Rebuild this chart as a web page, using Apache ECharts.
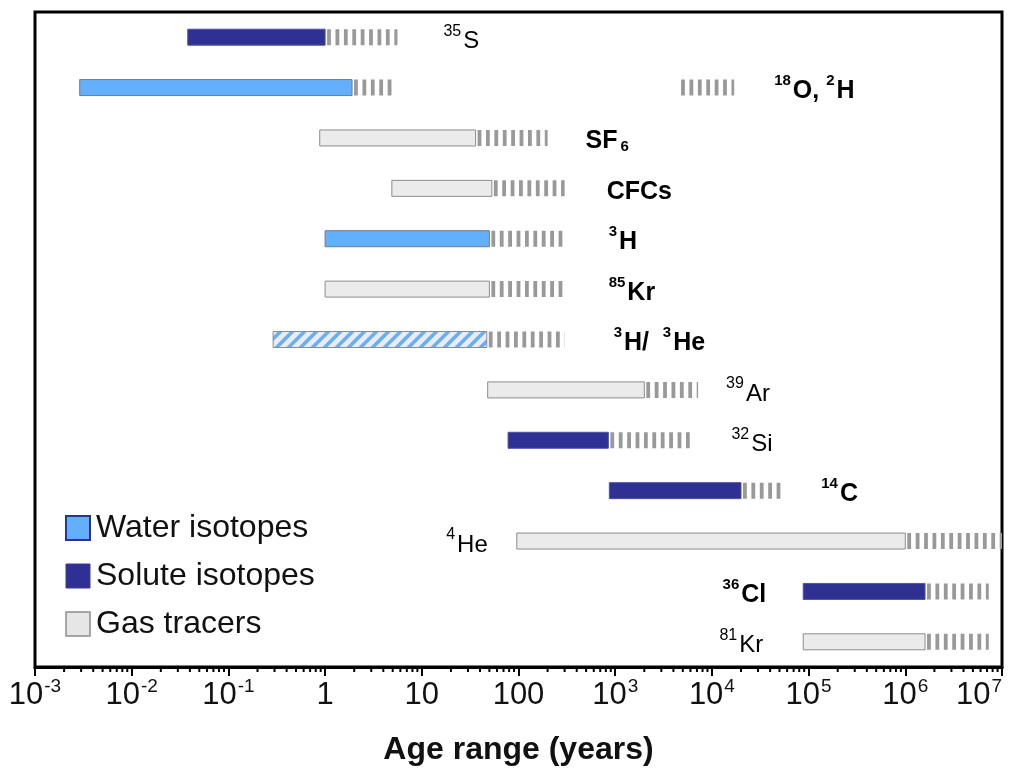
<!DOCTYPE html>
<html>
<head>
<meta charset="utf-8">
<script src="https://cdn.jsdelivr.net/npm/echarts@6/dist/echarts.min.js"></script>
<style>
html,body{margin:0;padding:0;background:#fff;}
#chart{width:1015px;height:771px;}
</style>
</head>
<body>
<div id="chart"></div>
<script>
// ---------------- data ----------------
const tracers = ['35S', '18O, 2H', 'SF6', 'CFCs', '3H', '85Kr', '3H/3He', '39Ar', '32Si', '14C', '4He', '36Cl', '81Kr'];
const groups = ['solute', 'water', 'gas', 'gas', 'water', 'gas', 'mixed', 'gas', 'solute', 'solute', 'gas', 'solute', 'gas'];
const solidFrom = [0.038, 0.0029, 0.88, 4.9, 1.0, 1.0, 0.29, 48, 78, 870, 96, 88000, 88000];
const solidTo = [1.0, 1.9, 36, 53, 50, 50, 47, 2000, 850, 20000, 1.0e6, 1.6e6, 1.6e6];
const dashTo = [5.6, 4.9, 200, 300, 300, 300, 300, 7200, 6000, 56000, 1.0e7, 7.3e6, 7.3e6];
const extraDashFrom = [null, 4800, null, null, null, null, null, null, null, null, null, null, null];
const extraDashTo = [null, 17000, null, null, null, null, null, null, null, null, null, null, null];
const labelRich = [
  '{s|35}{n|S}',
  '{bs|18}{b|O, }{bs|2}{b|H}',
  '{b|SF}{bsub|6}',
  '{b|CFCs}',
  '{bs|3}{b|H}',
  '{bs|85}{b|Kr}',
  '{bs|3}{b|H/  }{bs|3}{b|He}',
  '{s|39}{n|Ar}',
  '{s|32}{n|Si}',
  '{bs|14}{b|C}',
  '{s|4}{n|He}',
  '{bs|36}{b|Cl}',
  '{s|81}{n|Kr}'
];
const seriesNames = { water: 'Water isotopes', solute: 'Solute isotopes', gas: 'Gas tracers', mixed: 'Water / gas' };
const axisMin = 0.001, axisMax = 1e7;

// ---------------- styles ----------------
const FONT = 'Liberation Sans, Arial, sans-serif';
const labelSide = ['r','r','r','r','r','r','r','r','r','r','l','l','l'];
const labelGap = [46, 40, 38, 42, 44, 44, 49, 28, 41, 37, 29, 37, 40];
const colors = {
  water: { fill: '#62b0fb', stroke: '#6f7a86' },
  solute: { fill: '#2e3192', stroke: '#5050a8' },
  gas: { fill: '#ebebeb', stroke: '#8c8c8c' }
};
const stripeColor = '#999999';
const BAR_H = 16;

// hatched pattern for 3H/3He
const pat = document.createElement('canvas');
pat.width = 12; pat.height = 12;
(function () {
  const c = pat.getContext('2d');
  c.fillStyle = '#e9edf2';
  c.fillRect(0, 0, 12, 12);
  c.strokeStyle = '#6aaef5';
  c.lineWidth = 3.6;
  c.beginPath();
  for (let k = -1; k <= 1; k++) {
    c.moveTo(k * 12 - 2, 14);
    c.lineTo(k * 12 + 14, -2);
  }
  c.stroke();
})();

const richStyles = {
  n: { fontFamily: FONT, fontSize: 24, color: '#222', verticalAlign: 'bottom', lineHeight: 30 },
  s: { fontFamily: FONT, fontSize: 16, color: '#222', verticalAlign: 'top', lineHeight: 17, padding: [0, 2, 0, 0] },
  b: { fontFamily: FONT, fontSize: 25, fontWeight: 'bold', color: '#111', verticalAlign: 'bottom', lineHeight: 30 },
  bs: { fontFamily: FONT, fontSize: 15, fontWeight: 'bold', color: '#111', verticalAlign: 'top', lineHeight: 16, padding: [0, 2, 0, 0] },
  bsub: { fontFamily: FONT, fontSize: 15, fontWeight: 'bold', color: '#111', verticalAlign: 'bottom', lineHeight: 22, padding: [0, 0, 0, 3] }
};

function makeRender(group) {
  return function (params, api) {
    const row = api.value(1);
    const yc = api.coord([1, row])[1];
    const x0 = api.coord([api.value(0), row])[0];
    const x1 = api.coord([api.value(2), row])[0];
    const x2 = api.coord([api.value(3), row])[0];
    const children = [];
    let fill, stroke;
    if (group === 'mixed') { fill = { image: pat, repeat: 'repeat' }; stroke = '#8c8c8c'; }
    else { fill = colors[group].fill; stroke = colors[group].stroke; }
    children.push({
      type: 'rect',
      shape: { x: x0, y: yc - BAR_H / 2, width: x1 - x0, height: BAR_H },
      style: { fill: fill, stroke: stroke, lineWidth: 1 }
    });
    children.push({
      type: 'line',
      shape: { x1: x1 + 2, y1: yc, x2: x2, y2: yc },
      style: { stroke: stripeColor, lineWidth: BAR_H, lineDash: [3.8, 4.6], lineCap: 'butt' }
    });
    const ef = api.value(4), et = api.value(5);
    let labelAnchor = x2;
    if (ef != null && !isNaN(ef) && et != null && !isNaN(et)) {
      const ex0 = api.coord([ef, row])[0];
      const ex1 = api.coord([et, row])[0];
      children.push({
        type: 'line',
        shape: { x1: ex0, y1: yc, x2: ex1, y2: yc },
        style: { stroke: stripeColor, lineWidth: BAR_H, lineDash: [3.8, 4.6], lineCap: 'butt' }
      });
      labelAnchor = ex1;
    }
    const side = labelSide[row];
    children.push({
      type: 'text',
      style: {
        text: labelRich[row],
        x: side === 'r' ? labelAnchor + labelGap[row] : x0 - labelGap[row],
        y: yc + 1,
        align: side === 'r' ? 'left' : 'right',
        verticalAlign: 'middle',
        rich: richStyles
      }
    });
    return { type: 'group', children: children };
  };
}

function seriesFor(group) {
  const data = [];
  for (let i = 0; i < tracers.length; i++) {
    if (groups[i] !== group) continue;
    data.push([solidFrom[i], i, solidTo[i], dashTo[i],
      extraDashFrom[i] == null ? NaN : extraDashFrom[i],
      extraDashTo[i] == null ? NaN : extraDashTo[i]]);
  }
  const c = colors[group] || colors.gas;
  return {
    type: 'custom',
    name: seriesNames[group],
    renderItem: makeRender(group),
    itemStyle: { color: c.fill, borderColor: c.stroke },
    encode: { x: [0, 2, 3], y: 1 },
    clip: false,
    silent: true,
    data: data
  };
}

// minor ticks (2..9 in each decade) drawn below the axis line
const minorTickVals = [];
for (let d = -3; d < 7; d++) for (let m = 2; m <= 9; m++) minorTickVals.push(m * Math.pow(10, d));

const minorTickSeries = {
  type: 'custom',
  name: 'minorTicks',
  silent: true,
  clip: false,
  encode: { x: 0 },
  data: minorTickVals.map(v => [v]),
  renderItem: function (params, api) {
    const x = api.coord([api.value(0), 0])[0];
    const yb = params.coordSys.y + params.coordSys.height;
    return { type: 'line', shape: { x1: x, y1: yb, x2: x, y2: yb + 5 }, style: { stroke: '#000', lineWidth: 2 } };
  }
};

const chart = echarts.init(document.getElementById('chart'), null, { renderer: 'canvas' });
chart.setOption({
  animation: false,
  backgroundColor: '#fff',
  textStyle: { fontFamily: FONT },
  grid: { left: 35, right: 13, top: 12, bottom: 103, show: true, borderColor: '#000', borderWidth: 3, backgroundColor: 'transparent' },
  legend: {
    orient: 'vertical',
    left: 60,
    top: 505,
    itemWidth: 24,
    itemHeight: 24,
    itemGap: 12,
    icon: 'rect',
    selectedMode: false,
    textStyle: { fontFamily: FONT, fontSize: 32, color: '#111', lineHeight: 36, padding: [0, 0, 0, 1] },
    data: [
      { name: 'Water isotopes', itemStyle: { color: colors.water.fill, borderColor: '#2e3192', borderWidth: 2 } },
      { name: 'Solute isotopes', itemStyle: { color: colors.solute.fill, borderColor: '#3a3d9a', borderWidth: 1 } },
      { name: 'Gas tracers', itemStyle: { color: '#e6e6e6', borderColor: '#8c8c8c', borderWidth: 1.5 } }
    ]
  },
  xAxis: {
    type: 'log',
    logBase: 10,
    min: axisMin,
    max: axisMax,
    interval: 1,
    name: 'Age range (years)',
    nameLocation: 'middle',
    nameGap: 67,
    nameTextStyle: { fontFamily: FONT, fontSize: 32, fontWeight: 'bold', color: '#111' },
    axisLine: { show: true, lineStyle: { color: '#000', width: 3 } },
    axisTick: { show: true, inside: false, length: 9, lineStyle: { color: '#000', width: 2 } },
    splitLine: { show: false },
    axisLabel: {
      margin: 10,
      alignMaxLabel: 'right',
      formatter: function (v) {
        const e = Math.round(Math.log10(v));
        if (e === 0) return '{n|1}';
        if (e === 1) return '{n|10}';
        if (e === 2) return '{n|100}';
        return '{n|10}{e|' + e + '}';
      },
      rich: {
        n: { fontFamily: FONT, fontSize: 31, color: '#111', verticalAlign: 'bottom', lineHeight: 34 },
        e: { fontFamily: FONT, fontSize: 19, color: '#111', verticalAlign: 'top', lineHeight: 20, padding: [0, 0, 0, 1] }
      }
    }
  },
  yAxis: {
    type: 'category',
    inverse: true,
    data: tracers,
    show: false,
    axisLine: { show: false },
    axisTick: { show: false },
    axisLabel: { show: false },
    splitLine: { show: false }
  },
  series: [seriesFor('water'), seriesFor('solute'), seriesFor('gas'), seriesFor('mixed'), minorTickSeries]
});
</script>
</body>
</html>
